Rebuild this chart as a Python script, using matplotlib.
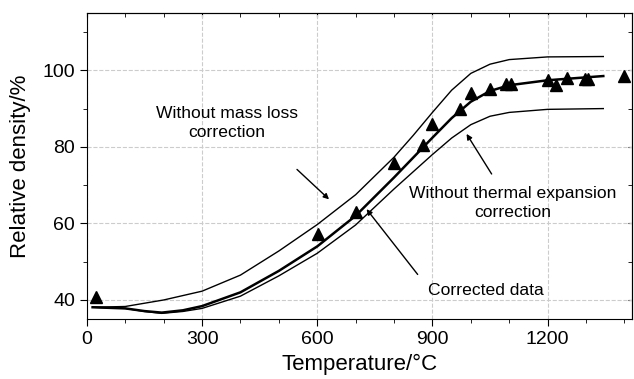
import matplotlib.pyplot as plt

plt.rcParams['font.family'] = ['Liberation Sans', 'DejaVu Sans']

# curve without mass loss correction (upper)
mass_x = [15, 100, 200, 300, 400, 500, 600, 700, 800, 850, 900, 950, 1000, 1050, 1100, 1200, 1345]
mass_y = [38.1, 38.3, 40.0, 42.3, 46.5, 52.8, 59.7, 67.5, 77.3, 83.0, 89.0, 94.8, 99.2, 101.6, 102.8, 103.5, 103.6]

# corrected curve (thick, middle)
corr_x = [15, 100, 150, 195, 250, 300, 400, 500, 600, 700, 800, 875, 900, 950, 1000, 1050, 1100, 1200, 1345]
corr_y = [38.1, 37.8, 37.1, 36.7, 37.3, 38.4, 42.0, 47.6, 54.0, 62.0, 72.0, 79.8, 82.4, 87.5, 91.8, 94.6, 96.1, 97.4, 98.5]

# curve without thermal expansion correction (lower)
therm_x = [15, 100, 150, 195, 250, 300, 400, 500, 600, 700, 800, 900, 950, 1000, 1050, 1100, 1200, 1345]
therm_y = [38.1, 37.8, 37.0, 36.5, 37.0, 37.8, 41.0, 46.3, 52.2, 59.6, 69.0, 78.0, 82.3, 85.8, 88.0, 89.0, 89.8, 90.0]

# measured points
meas_x = [25, 601, 702, 801, 875, 900, 971, 1000, 1051, 1091, 1104, 1201, 1221, 1251, 1297, 1305, 1400]
meas_y = [40.8, 57.2, 63.0, 75.8, 80.4, 86.0, 90.0, 94.0, 95.0, 96.3, 96.3, 97.5, 96.2, 98.1, 97.7, 97.7, 98.4]

fig = plt.figure(figsize=(6.34, 3.79), dpi=100)
ax = fig.add_axes([0.137, 0.158, 0.86, 0.808])

ax.plot(mass_x, mass_y, color='black', lw=1.0)
ax.plot(therm_x, therm_y, color='black', lw=1.0)
ax.plot(corr_x, corr_y, color='black', lw=1.8)
ax.plot(meas_x, meas_y, 'k^', markersize=9, linestyle='none')

ax.set_xlim(0, 1420)
ax.set_ylim(35, 115)
ax.set_xticks([0, 300, 600, 900, 1200])
ax.set_xticks(range(0, 1420, 100), minor=True)
ax.set_yticks([40, 60, 80, 100])
ax.set_yticks(range(40, 115, 10), minor=True)
ax.grid(True, which='major', color='#cccccc', linestyle='--', linewidth=0.8)

ax.tick_params(which='both', direction='out', top=False, right=False, labelsize=14)
ax.tick_params(which='major', length=5)
ax.tick_params(which='minor', length=3)

# mirrored inward ticks on top and right
sec = ax.secondary_xaxis('top')
sec.set_xticks([0, 300, 600, 900, 1200])
sec.set_xticks(range(0, 1420, 100), minor=True)
sec.tick_params(which='both', direction='in', labeltop=False, length=3)
secy = ax.secondary_yaxis('right')
secy.set_yticks([40, 60, 80, 100])
secy.set_yticks(range(40, 115, 10), minor=True)
secy.tick_params(which='both', direction='in', labelright=False, length=3)

ax.set_xlabel('Temperature/°C', fontsize=16, labelpad=4)
ax.set_ylabel('Relative density/%', fontsize=16, labelpad=8)

arrow = dict(arrowstyle='-|>', color='black', lw=1.0, mutation_scale=8)
ax.annotate('', xy=(636, 65.8), xytext=(542, 74.6), arrowprops=arrow)
ax.annotate('', xy=(985, 84.0), xytext=(1058, 72.3), arrowprops=arrow)
ax.annotate('', xy=(724, 64.3), xytext=(866, 46.1), arrowprops=arrow)

ax.text(365, 86.2, 'Without mass loss\ncorrection', ha='center', va='center', fontsize=12.6, linespacing=1.3)
ax.text(1108, 65.4, 'Without thermal expansion\ncorrection', ha='center', va='center', fontsize=12.6, linespacing=1.3)
ax.text(1038, 42.6, 'Corrected data', ha='center', va='center', fontsize=12.6)

fig.savefig('out.png', dpi=100)
